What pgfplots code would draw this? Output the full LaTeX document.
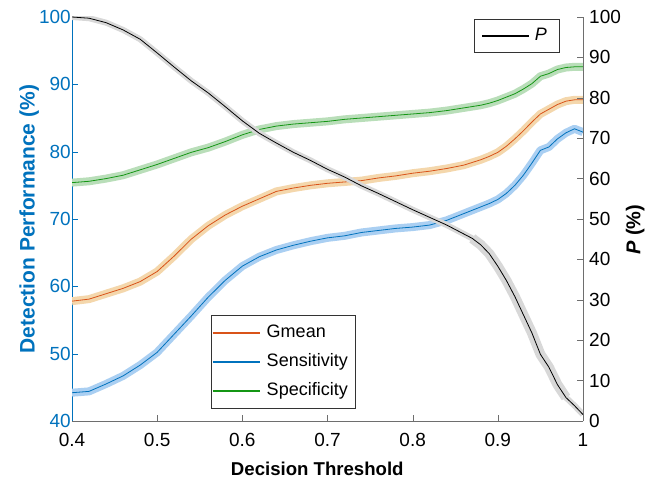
\documentclass[border=0pt]{standalone}
\usepackage{fontspec}
\setmainfont{Liberation Sans}
\usepackage{pgfplots}
\pgfplotsset{compat=1.18}
\usepackage{pgfplotstable}

\definecolor{mblue}{HTML}{0072BD}
\definecolor{morange}{HTML}{D95319}
\definecolor{mgreen}{HTML}{149614}
\definecolor{bandblue}{HTML}{AACFF2}
\definecolor{bandorange}{HTML}{F4D7AC}
\definecolor{bandgreen}{HTML}{B9DEB9}
\definecolor{bandgray}{HTML}{D8D8D8}
\definecolor{axgray}{HTML}{6E6E6E}

% threshold, Gmean, Sensitivity, Specificity, P
\pgfplotstableread{
x    G    S    Sp   P
0.40 57.8 44.2 75.4 100.0
0.42 58.1 44.4 75.6 99.7
0.44 58.9 45.5 76.0 98.6
0.46 59.7 46.7 76.5 96.8
0.48 60.7 48.3 77.3 94.5
0.50 62.2 50.2 78.1 91.1
0.52 64.5 52.9 79.0 87.6
0.54 67.0 55.6 79.9 84.2
0.56 69.0 58.4 80.6 81.2
0.58 70.6 60.9 81.5 77.8
0.60 71.9 63.0 82.5 74.3
0.62 73.0 64.4 83.3 71.2
0.64 74.1 65.4 83.8 68.8
0.66 74.6 66.1 84.1 66.5
0.68 75.0 66.7 84.3 64.5
0.70 75.3 67.2 84.5 62.3
0.72 75.5 67.5 84.8 60.4
0.74 75.7 68.0 85.0 58.2
0.76 76.1 68.3 85.2 56.3
0.78 76.4 68.6 85.4 54.3
0.80 76.8 68.8 85.6 52.3
0.82 77.1 69.1 85.8 50.4
0.84 77.5 69.8 86.1 48.5
0.86 78.0 70.8 86.5 46.3
0.87 78.4 71.3 86.7 45.2
0.88 78.8 71.8 86.9 43.6
0.89 79.3 72.3 87.2 41.4
0.90 79.9 72.9 87.6 38.3
0.91 80.8 73.8 88.1 34.8
0.92 81.9 75.0 88.6 30.8
0.93 83.1 76.5 89.3 26.3
0.94 84.4 78.3 90.1 21.8
0.95 85.6 80.2 91.2 16.5
0.96 86.3 80.7 91.6 13.3
0.97 87.0 81.9 92.2 9.0
0.98 87.5 82.8 92.5 5.8
0.99 87.7 83.4 92.6 3.8
1.00 87.7 82.9 92.6 1.6
}\perf

\begin{document}
\begin{tikzpicture}[font=\fontsize{18bp}{22bp}\selectfont]
\useasboundingbox (-72bp,-64bp) rectangle (590bp,421bp);
\pgfplotsset{
  every axis/.append style={
    scale only axis, width=511bp, height=404bp,
    xmin=0.4, xmax=1,
    tick align=inside, major tick length=6bp,
    /pgf/number format/assume math mode=true,
    tick label style={font=\fontsize{19bp}{22bp}\selectfont},
    legend cell align=left,
    legend image code/.code={\draw[#1, line width=1.5bp] (0bp,0bp) -- (47bp,0bp);},
  },
}
\begin{axis}[
  axis x line*=bottom, axis y line*=left,
  ymin=40, ymax=100, ytick={40,50,...,100},
  xtick={0.4,0.5,0.6,0.7,0.8,0.9,1},
  x axis line style={draw=axgray,-},
  y axis line style={draw=mblue,-},
  xtick style={draw=axgray},
  ytick style={draw=mblue},
  xticklabel style={yshift=-9bp},
  yticklabel style={text=mblue, inner xsep=1bp},
  xlabel={\textbf{Decision Threshold}},
  xlabel style={font=\fontsize{18.6bp}{22bp}\selectfont,
    at={(axis description cs:0.48,-0.119)}, anchor=center},
  ylabel={\textbf{Detection Performance (\%)}},
  ylabel style={font=\fontsize{21bp}{24bp}\selectfont, text=mblue,
    at={(axis description cs:-0.084,0.5)}, anchor=center},
  legend style={at={(axis description cs:0.272,0.262)}, anchor=north west,
    draw=black!80, line width=0.5bp, inner xsep=1bp, inner ysep=3bp,
    row sep=0bp,
    nodes={inner sep=6bp, text height=13bp, text depth=4bp}},
]
\addplot[bandorange, line width=8bp, line join=round, forget plot] table[x=x,y=G]{\perf};
\addplot[bandblue, line width=8bp, line join=round, forget plot] table[x=x,y=S]{\perf};
\addplot[bandgreen, line width=8bp, line join=round, forget plot] table[x=x,y=Sp]{\perf};
\addplot[draw=morange, line width=0.8bp] table[x=x,y=G]{\perf};
\addplot[draw=mblue, line width=0.8bp] table[x=x,y=S]{\perf};
\addplot[draw=mgreen, line width=0.8bp] table[x=x,y=Sp]{\perf};
\legend{Gmean, Sensitivity, Specificity}
\end{axis}

\begin{axis}[
  axis y line*=right, axis x line=none,
  ymin=0, ymax=100, ytick={0,10,...,100},
  y axis line style={draw=axgray,-},
  ytick style={draw=axgray},
  yticklabel style={text=black, inner xsep=6bp},
  ylabel={\textbf{\textit{P} (\%)}},
  ylabel style={font=\fontsize{20bp}{24bp}\selectfont,
    at={(axis description cs:1.102,0.473)}, anchor=center},
  legend style={at={(axis description cs:0.787,0.995)}, anchor=north west,
    draw=black!80, line width=0.5bp, inner xsep=7bp, inner ysep=3bp,
    nodes={inner sep=5bp, text height=13bp, text depth=4bp}},
]
\addplot[bandgray, line width=6bp, line join=round, forget plot] table[x=x,y=P]{\perf};
\addplot[bandgray, line width=10bp, line join=round, forget plot, restrict x to domain=0.87:0.98] table[x=x,y=P]{\perf};
\addplot[draw=black, line width=0.8bp] table[x=x,y=P]{\perf};
\legend{\textit{P}}
\end{axis}
\end{tikzpicture}
\end{document}
